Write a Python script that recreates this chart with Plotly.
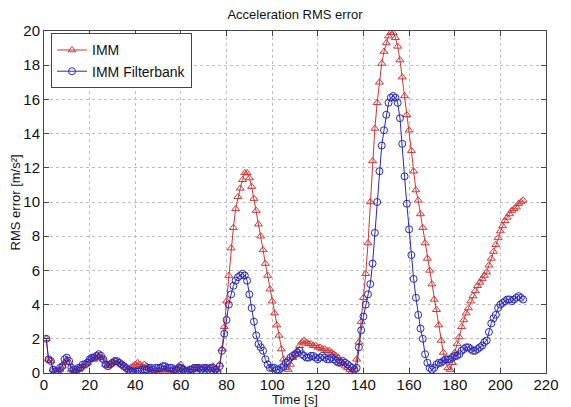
import plotly.graph_objects as go

# Time axis, one sample per second
time_s = list(range(1, 211))

# RMS acceleration error of the plain IMM filter [m/s^2]
imm_err = [
    2.0, 0.8, 0.7, 0.2, 0.1, 0.1, 0.2, 0.4, 0.6, 0.8,
    0.6, 0.2, 0.1, 0.1, 0.2, 0.3, 0.4, 0.5, 0.6, 0.8,
    0.9, 0.8, 1.0, 1.0, 0.9, 0.8, 0.5, 0.4, 0.5, 0.6,
    0.7, 0.6, 0.6, 0.5, 0.4, 0.3, 0.2, 0.3, 0.4, 0.5,
    0.6, 0.5, 0.4, 0.5, 0.4, 0.3, 0.2, 0.1, 0.1, 0.1,
    0.1, 0.2, 0.2, 0.2, 0.1, 0.1, 0.1, 0.2, 0.4, 0.5,
    0.3, 0.2, 0.1, 0.2, 0.3, 0.3, 0.3, 0.3, 0.2, 0.3,
    0.3, 0.2, 0.3, 0.4, 0.2, 0.2, 0.5, 1.4, 2.7, 4.2,
    5.7, 7.3, 8.5, 9.6, 10.3, 10.8, 11.3, 11.7, 11.7, 11.4,
    10.9, 10.2, 9.5, 8.7, 8.0, 7.2, 6.4, 5.7, 4.9, 4.2,
    3.5, 2.8, 2.2, 1.4, 0.8, 0.3, 0.2, 0.5, 0.9, 1.1,
    1.3, 1.6, 1.8, 1.9, 1.8, 1.7, 1.7, 1.6, 1.6, 1.5,
    1.5, 1.4, 1.4, 1.3, 1.3, 1.2, 1.1, 1.0, 0.9, 0.7,
    0.6, 0.4, 0.3, 0.2, 0.1, 0.2, 0.8, 1.8, 3.0, 4.4,
    5.8, 7.6, 10.0, 12.4, 14.3, 15.8, 17.0, 18.1, 18.8, 19.3,
    19.7, 19.9, 19.9, 19.6, 19.1, 18.3, 17.3, 16.2, 15.1, 14.2,
    13.0, 11.8, 10.7, 10.1, 9.3, 8.5, 7.6, 6.7, 6.0, 5.2,
    4.3, 3.7, 2.8, 1.9, 1.2, 0.7, 0.3, 0.2, 0.6, 1.2,
    1.7, 2.1, 2.7, 3.1, 3.5, 3.8, 4.2, 4.5, 4.8, 5.1,
    5.3, 5.5, 5.7, 5.9, 6.3, 6.7, 7.1, 7.5, 7.9, 8.3,
    8.6, 8.9, 9.1, 9.3, 9.5, 9.6, 9.7, 9.9, 10.0, 10.1,
]

# RMS acceleration error of the IMM filter bank [m/s^2]
bank_err = [
    2.0, 0.8, 0.7, 0.2, 0.1, 0.1, 0.3, 0.4, 0.8, 0.9,
    0.7, 0.3, 0.2, 0.2, 0.3, 0.3, 0.5, 0.5, 0.6, 0.8,
    0.9, 0.9, 1.0, 1.1, 1.0, 0.8, 0.5, 0.4, 0.5, 0.6,
    0.7, 0.7, 0.6, 0.5, 0.4, 0.3, 0.2, 0.1, 0.1, 0.1,
    0.1, 0.1, 0.2, 0.2, 0.2, 0.3, 0.3, 0.2, 0.3, 0.3,
    0.3, 0.4, 0.4, 0.3, 0.3, 0.3, 0.2, 0.2, 0.3, 0.3,
    0.2, 0.1, 0.1, 0.2, 0.2, 0.3, 0.3, 0.3, 0.2, 0.3,
    0.3, 0.2, 0.3, 0.3, 0.2, 0.0, 0.4, 1.3, 2.3, 3.1,
    4.0, 4.6, 5.1, 5.4, 5.6, 5.7, 5.8, 5.7, 5.4, 4.6,
    3.8, 3.0, 2.2, 1.7, 1.5, 1.3, 0.8, 0.5, 0.3, 0.3,
    0.3, 0.2, 0.2, 0.3, 0.4, 0.6, 0.7, 0.9, 1.0, 1.1,
    1.2, 1.3, 1.1, 1.0, 0.9, 0.9, 1.0, 1.0, 0.9, 0.8,
    0.9, 1.0, 0.9, 0.8, 0.8, 0.9, 0.8, 0.7, 0.6, 0.6,
    0.7, 0.6, 0.5, 0.4, 0.3, 0.2, 0.3, 1.5, 2.5, 3.3,
    4.0, 4.6, 5.2, 6.4, 8.2, 10.0, 11.8, 13.3, 14.2, 15.1,
    15.8, 16.1, 16.2, 16.1, 15.8, 14.9, 13.4, 11.5, 9.9, 8.4,
    6.9, 5.5, 4.4, 3.4, 2.6, 2.0, 1.1, 0.6, 0.3, 0.2,
    0.3, 0.5, 0.6, 0.6, 0.7, 0.8, 0.8, 0.8, 0.9, 1.0,
    1.0, 1.1, 1.3, 1.4, 1.5, 1.5, 1.4, 1.3, 1.3, 1.4,
    1.5, 1.6, 1.8, 1.9, 2.4, 2.9, 3.2, 3.4, 3.8, 4.0,
    4.1, 4.2, 4.3, 4.3, 4.2, 4.3, 4.4, 4.5, 4.4, 4.3,
]

x_ticks = list(range(0, 221, 20))
y_ticks = list(range(0, 21, 2))

series_names = ["IMM", "IMM Filterbank"]

FONT = "Liberation Sans, Arial, sans-serif"
RED = "rgb(205,55,55)"
BLUE = "rgb(40,40,185)"
INK = "#111111"

fig = go.Figure()
fig.add_trace(go.Scatter(
    x=time_s, y=imm_err, name=series_names[0], mode="lines+markers",
    line=dict(color=RED, width=1),
    marker=dict(symbol="triangle-up-open", size=7, color=RED, line=dict(width=1)),
))
fig.add_trace(go.Scatter(
    x=time_s, y=bank_err, name=series_names[1], mode="lines+markers",
    line=dict(color=BLUE, width=1),
    marker=dict(symbol="circle-open", size=7, color=BLUE, line=dict(width=1)),
))

axis_common = dict(
    showline=True, linecolor="#444444", linewidth=1, mirror="ticks",
    ticks="inside", ticklen=5, tickcolor="#444444",
    showgrid=True, gridcolor="#bdbdbd", griddash="dot", gridwidth=1,
    zeroline=False,
    tickfont=dict(family=FONT, size=15, color=INK),
)

fig.update_xaxes(range=[0, 220], tickvals=x_ticks, ticklabelstandoff=-2, **axis_common)
fig.update_yaxes(range=[0, 20], tickvals=y_ticks, **axis_common)

fig.update_layout(
    width=571, height=407,
    margin=dict(l=44, r=14, t=31, b=34),
    paper_bgcolor="white", plot_bgcolor="white",
    title=dict(text="Acceleration RMS error", x=0.5, xref="paper",
               y=1 - 14 / 407, yanchor="middle", xanchor="center",
               font=dict(family=FONT, size=13, color=INK)),
    legend=dict(x=0.014, y=0.993, xanchor="left", yanchor="top",
                bgcolor="white", bordercolor="#444444", borderwidth=1,
                font=dict(family=FONT, size=14, color=INK),
                tracegroupgap=0, itemwidth=30),
    showlegend=True,
    annotations=[
        dict(text="Time [s]", xref="paper", yref="paper", x=0.5, y=-0.078,
             xanchor="center", yanchor="middle", showarrow=False, borderpad=0,
             font=dict(family=FONT, size=13, color=INK)),
        dict(text="RMS error [m/s²]", xref="paper", yref="paper", x=-0.057, y=0.5,
             xanchor="center", yanchor="middle", textangle=-90, showarrow=False,
             font=dict(family=FONT, size=13, color=INK)),
    ],
)

fig.write_html("out.html")
